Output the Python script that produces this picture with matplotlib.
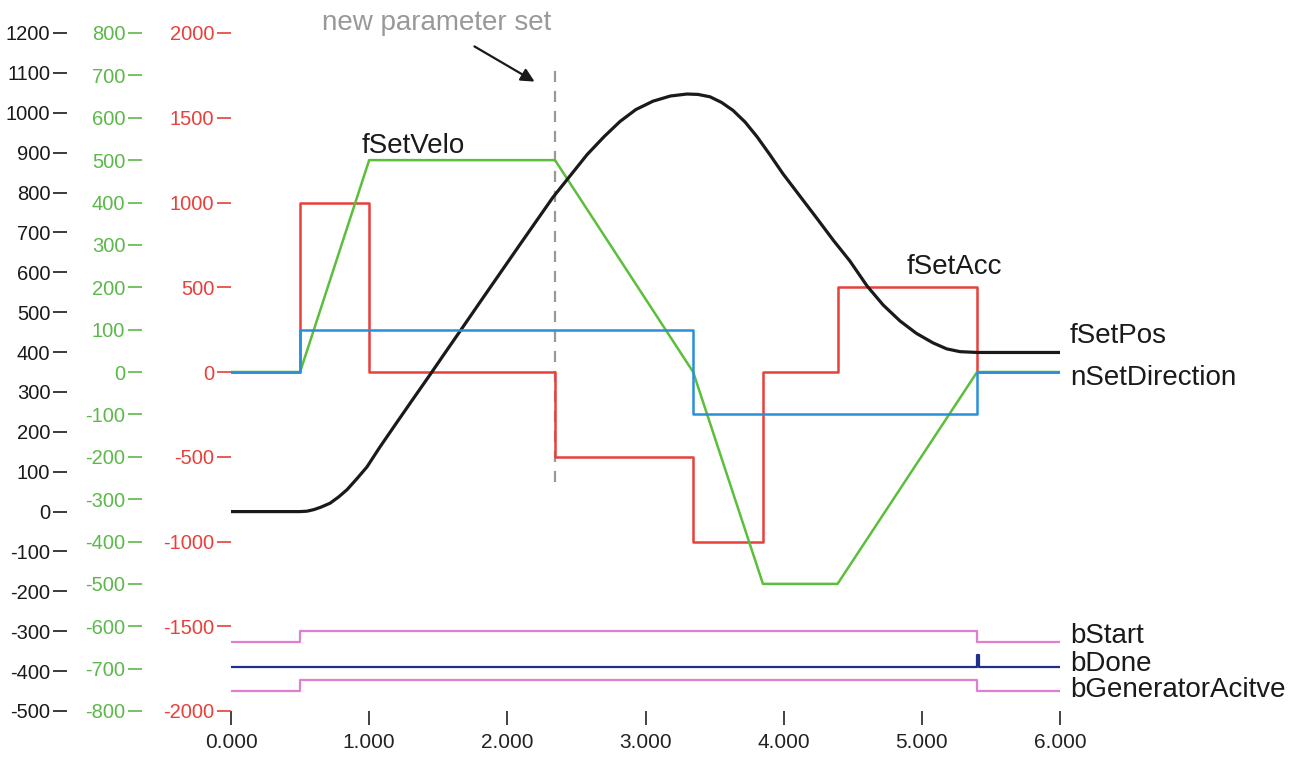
import matplotlib.pyplot as plt
import numpy as np

plt.rcParams['font.family'] = ['Liberation Sans', 'DejaVu Sans']
plt.rcParams['axes.unicode_minus'] = False

# Data (time in s)
step_times = [0.0, 0.5, 1.0, 2.345, 3.345, 3.85, 4.39, 5.40, 6.0]
set_acc = [0, 1000, 0, -500, -1000, 0, 500, 0, 0]
set_velo = [0, 0, 500, 500, 0, -500, -500, 0, 0]

dir_times = [0.0, 0.5, 3.345, 5.40, 6.0]
set_direction = [0, 1, -1, 0, 0]

pos_times = [0.0, 0.5, 0.55, 0.6, 0.65, 0.717, 0.78, 0.84, 0.91, 0.984, 1.078,
             1.201, 1.317, 1.44, 1.563, 1.657, 1.802, 2.092, 2.33, 2.45, 2.577,
             2.70, 2.815, 2.93, 3.054, 3.18, 3.30, 3.38, 3.467, 3.55, 3.633,
             3.72, 3.807, 3.90, 3.995, 4.12, 4.241, 4.36, 4.48, 4.603, 4.72,
             4.842, 4.96, 5.081, 5.18, 5.276, 5.40, 6.0]
set_pos = [0, 0, 1, 5, 11, 21, 37, 55, 82, 112, 162,
           224, 282, 343, 405, 452, 525, 670, 788, 840, 895,
           940, 978, 1008, 1029, 1042, 1047, 1046, 1040, 1026, 1006,
           977, 940, 895, 847, 790, 735, 680, 628, 566, 518,
           478, 447, 423, 408, 401, 399, 399]

bool_times = [0.0, 0.5, 5.40, 6.0]
b_start = [0, 1, 0, 0]
b_generator_active = [0, 1, 0, 0]
done_times = [0.0, 5.40, 5.415, 6.0]
b_done = [0, 1, 0, 0]

param_change_time = 2.345

x_ticks = [0, 1, 2, 3, 4, 5, 6]
acc_ticks = np.arange(-2000, 2001, 500)
velo_ticks = np.arange(-800, 801, 100)
pos_ticks = np.arange(-500, 1201, 100)

red = '#e8403a'
green = '#5cbf3c'
green_txt = '#5cb84a'
blue = '#2a8fd6'
pink = '#df7fd0'
navy = '#1f2f8f'
black = '#1a1a1a'

fig = plt.figure(figsize=(13.06, 7.58), dpi=100)
W, H = 1306, 758
ax = fig.add_axes([231 / W, 47 / H, 829 / W, 678 / H])
ax_v = ax.twinx()
ax_p = ax.twinx()
ax_d = ax.twinx()
ax_b = ax.twinx()

for a in (ax, ax_v, ax_p, ax_d, ax_b):
    for s in a.spines.values():
        s.set_visible(False)
    a.set_xlim(0, 6)

# red acceleration axis (main)
ax.set_ylim(-2000, 2000)
ax.set_yticks(acc_ticks)
ax.set_yticklabels([str(v) for v in acc_ticks])
ax.tick_params(axis='y', colors=red, labelsize=14.5, length=10, width=1.2, pad=2)
ax.set_xticks(x_ticks)
ax.set_xticklabels(['%.3f' % v for v in x_ticks])
ax.tick_params(axis='x', colors='#222222', labelsize=15, length=10, width=1.2, pad=6)

# green velocity axis
ax_v.set_ylim(-800, 800)
ax_v.yaxis.tick_left()
ax_v.spines['left'].set_position(('axes', -(231 - 142) / 829))
ax_v.set_yticks(velo_ticks)
ax_v.set_yticklabels([str(v) for v in velo_ticks])
ax_v.tick_params(axis='y', colors=green_txt, labelsize=14.5, length=10, width=1.2, pad=2)

# black position axis
ax_p.set_ylim(-500, 1200)
ax_p.yaxis.tick_left()
ax_p.spines['left'].set_position(('axes', -(231 - 67) / 829))
ax_p.set_yticks(pos_ticks)
ax_p.set_yticklabels([str(v) for v in pos_ticks])
ax_p.tick_params(axis='y', colors=black, labelsize=14.5, length=10, width=1.2, pad=2)

# direction and boolean axes (hidden)
ax_d.set_ylim(-8, 8)
ax_d.set_yticks([])
ax_b.set_ylim(0, 678 / 11)
ax_b.set_yticks([])

ax.axvline(param_change_time, ymin=0.338, ymax=0.945, color='#999999',
           lw=1.6, linestyle=(0, (5, 4)))

ax.plot(step_times, set_acc, drawstyle='steps-post', color=red, lw=1.8)
ax_v.plot(step_times, set_velo, color=green, lw=1.8)
ax_d.plot(dir_times, set_direction, drawstyle='steps-post', color=blue, lw=1.8)
ax_p.plot(pos_times, set_pos, color=black, lw=2.3, solid_joinstyle='round')

ax_b.plot(bool_times, np.array(b_start) + 6.3, drawstyle='steps-post', color=pink, lw=1.6)
ax_b.plot(done_times, np.array(b_done) * 1.1 + 4.0, drawstyle='steps-post', color=navy, lw=1.6)
ax_b.plot(bool_times, np.array(b_generator_active) + 1.8, drawstyle='steps-post', color=pink, lw=1.6)

# series labels
lbl = dict(fontsize=20, color=black, va='baseline', ha='left', clip_on=False)
ax.text(0.948, 1292, 'fSetVelo', **lbl)
ax.text(4.893, 578, 'fSetAcc', **lbl)
ax.text(6.072, 171, 'fSetPos', **lbl)
ax.text(6.072, -77, 'nSetDirection', **lbl)
ax.text(6.072, -1599, 'bStart', **lbl)
ax.text(6.072, -1764, 'bDone', **lbl)
ax.text(6.072, -1917, 'bGeneratorAcitve', **lbl)

fig.text(322 / W, 1 - 30 / H, 'new parameter set', fontsize=20, color='#999999',
         ha='left', va='baseline')
fig.add_artist(plt.Annotation('', xy=(537 / W, 1 - 83 / H), xytext=(472 / W, 1 - 45 / H),
                              xycoords='figure fraction', textcoords='figure fraction',
                              arrowprops=dict(arrowstyle='-|>', color=black, lw=1.6,
                                              mutation_scale=20)))

fig.savefig('out.png', dpi=100)
